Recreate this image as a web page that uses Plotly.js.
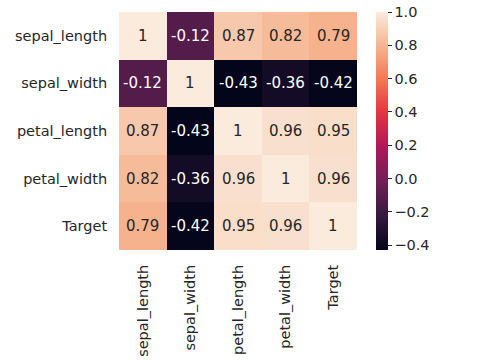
<!DOCTYPE html>
<html>
<head>
<meta charset="utf-8">
<script src="https://cdn.plot.ly/plotly-3.0.1.min.js"></script>
<style>html,body{margin:0;padding:0;background:#fff;}#chart{width:495px;height:363px;}</style>
</head>
<body>
<div id="chart"></div>
<script>
// Data
const labels = ["sepal_length", "sepal_width", "petal_length", "petal_width", "Target"];
const row_sepal_length = [1, -0.12, 0.87, 0.82, 0.79];
const row_sepal_width = [-0.12, 1, -0.43, -0.36, -0.42];
const row_petal_length = [0.87, -0.43, 1, 0.96, 0.95];
const row_petal_width = [0.82, -0.36, 0.96, 1, 0.96];
const row_target = [0.79, -0.42, 0.95, 0.96, 1];
const cbTickVals = [-0.4, -0.2, 0.0, 0.2, 0.4, 0.6, 0.8, 1.0];
const cbTickText = ["\u22120.4", "\u22120.2", "0.0", "0.2", "0.4", "0.6", "0.8", "1.0"];

const z = [row_sepal_length, row_sepal_width, row_petal_length, row_petal_width, row_target];

// seaborn "rocket" colormap approximation
const rocket = [
  [0.0, "#03051a"], [1/7, "#35193e"], [2/7, "#701f57"], [3/7, "#ad1759"],
  [4/7, "#e13342"], [5/7, "#f37651"], [6/7, "#f6b48f"], [1.0, "#faebdd"]
];
let zmin = Infinity, zmax = -Infinity;
z.forEach(r => r.forEach(v => { zmin = Math.min(zmin, v); zmax = Math.max(zmax, v); }));

function hex2rgb(h){return [1,3,5].map(i=>parseInt(h.substr(i,2),16)/255);}
function colorAt(v){
  const t = (v - zmin) / (zmax - zmin);
  for (let i = 1; i < rocket.length; i++) {
    if (t <= rocket[i][0]) {
      const a = rocket[i-1], b = rocket[i];
      const f = (t - a[0]) / (b[0] - a[0]);
      const ca = hex2rgb(a[1]), cb = hex2rgb(b[1]);
      return ca.map((c, k) => c + (cb[k] - c) * f);
    }
  }
  return hex2rgb(rocket[rocket.length-1][1]);
}
function lum(rgb){
  const l = rgb.map(c => c <= 0.03928 ? c/12.92 : Math.pow((c+0.055)/1.055, 2.4));
  return 0.2126*l[0] + 0.7152*l[1] + 0.0722*l[2];
}
function fmt(v){
  return (Math.round(v*100)/100).toString();
}

const FS = 14.5;
const annotations = [];
for (let i = 0; i < labels.length; i++) {
  for (let j = 0; j < labels.length; j++) {
    const v = z[i][j];
    annotations.push({
      x: labels[j], y: labels[i], xref: "x", yref: "y",
      text: fmt(v), showarrow: false,
      font: {family: "DejaVu Sans", size: 15, color: lum(colorAt(v)) > 0.408 ? "#262626" : "#ffffff"}
    });
  }
}

const trace = {
  type: "heatmap",
  x: labels, y: labels, z: z,
  zmin: zmin, zmax: zmax,
  colorscale: rocket,
  hoverinfo: "skip",
  colorbar: {
    x: (376 - 119) / 238, xanchor: "left", xref: "paper",
    y: 0.5, yanchor: "middle", len: 1, lenmode: "fraction",
    thickness: 12, thicknessmode: "pixels",
    outlinewidth: 0,
    ticks: "outside", ticklen: 4, tickwidth: 1, tickcolor: "#262626",
    tickvals: cbTickVals, ticktext: cbTickText,
    tickfont: {family: "DejaVu Sans", size: FS, color: "#262626"},
    xpad: 0, ypad: 0
  }
};

const layout = {
  width: 495, height: 363,
  margin: {l: 119, r: 138, t: 12, b: 113},
  paper_bgcolor: "#ffffff", plot_bgcolor: "#ffffff",
  font: {family: "DejaVu Sans", size: FS, color: "#262626"},
  xaxis: {
    type: "category", tickangle: -90, showgrid: false, zeroline: false,
    ticks: "outside", ticklen: 8, tickcolor: "rgba(0,0,0,0)",
    tickfont: {family: "DejaVu Sans", size: FS, color: "#262626"},
    showline: false, fixedrange: true
  },
  yaxis: {
    type: "category", autorange: "reversed", showgrid: false, zeroline: false,
    ticks: "outside", ticklen: 8, tickcolor: "rgba(0,0,0,0)",
    tickfont: {family: "DejaVu Sans", size: FS, color: "#262626"},
    showline: false, fixedrange: true
  },
  annotations: annotations
};

Plotly.newPlot("chart", [trace], layout, {displayModeBar: false, staticPlot: true});
</script>
</body>
</html>
